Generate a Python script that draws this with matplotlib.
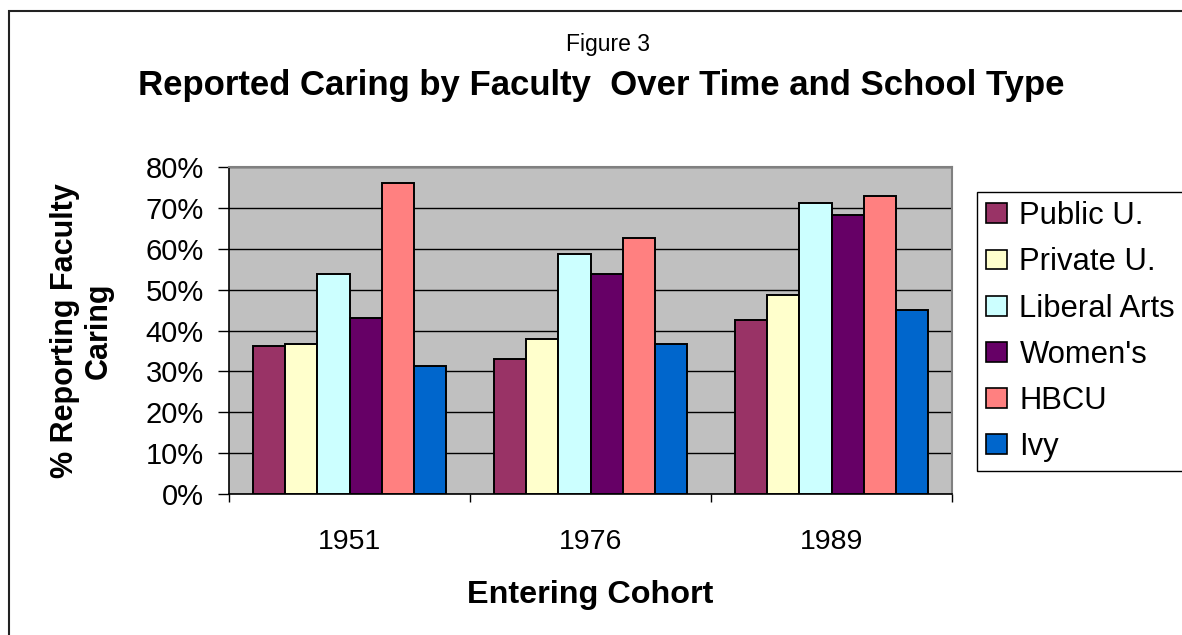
import matplotlib
matplotlib.use("Agg")
import matplotlib.pyplot as plt
from matplotlib.patches import Patch, Rectangle
from matplotlib.ticker import FuncFormatter, FixedLocator
import numpy as np

categories = ["1951", "1976", "1989"]
series_names = ["Public U.", "Private U.", "Liberal Arts", "Women's", "HBCU", "Ivy"]
public_u = [0.361, 0.331, 0.425]
private_u = [0.367, 0.380, 0.488]
liberal_arts = [0.539, 0.587, 0.711]
womens = [0.430, 0.539, 0.682]
hbcu = [0.760, 0.627, 0.729]
ivy = [0.312, 0.367, 0.449]
colors = ["#993366", "#FFFFCC", "#CCFFFF", "#660066", "#FF8080", "#0066CC"]
y_ticks = [0.0, 0.1, 0.2, 0.3, 0.4, 0.5, 0.6, 0.7, 0.8]

values = [public_u, private_u, liberal_arts, womens, hbcu, ivy]

W, H = 1182, 635
plt.rcParams['font.family'] = ['Liberation Sans', 'DejaVu Sans']
fig = plt.figure(figsize=(W / 100, H / 100), dpi=100)
fig.patch.set_facecolor("white")

left, right, top, bottom = 229, 952, 167, 494
ax = fig.add_axes([left / W, 1 - bottom / H, (right - left) / W, (bottom - top) / H])
ax.set_facecolor("#C0C0C0")

x = np.arange(len(categories))
n = len(values)
bw = 0.8 / n
for i, (vals, c) in enumerate(zip(values, colors)):
    ax.bar(x - 0.4 + bw * (i + 0.5), vals, width=bw, color=c, edgecolor="black",
           linewidth=1.4, zorder=3)

ax.set_xlim(-0.5, len(categories) - 0.5)
ax.set_ylim(0, 0.8)
ax.yaxis.set_major_locator(FixedLocator(y_ticks))
ax.yaxis.set_major_formatter(FuncFormatter(lambda v, p: f"{v * 100:.0f}%"))
ax.yaxis.grid(True, color="black", linewidth=1.0, zorder=1)
ax.set_axisbelow(True)

ax.set_xticks(x)
ax.set_xticklabels(categories)
ax.set_xticks(np.arange(len(categories) + 1) - 0.5, minor=True)
ax.tick_params(axis="x", which="major", length=0, pad=25, labelsize=20.5)
ax.tick_params(axis="x", which="minor", length=6, width=1, direction="out", color="black")
ax.tick_params(axis="y", length=8, width=1, direction="out", pad=10, labelsize=21)

for s in ["top", "right"]:
    ax.spines[s].set_color("#808080")
    ax.spines[s].set_linewidth(1.5)
ax.spines["left"].set_color("black")
ax.spines["bottom"].set_color("black")
ax.spines["left"].set_linewidth(1.2)
ax.spines["bottom"].set_linewidth(1.2)

ax.set_xlabel("Entering Cohort", fontsize=23.3, fontweight="bold", labelpad=18)
fig.text(82 / W, 1 - 331 / H, "% Reporting Faculty\nCaring", rotation=90,
         ha="center", va="center", fontsize=22, fontweight="bold", linespacing=1.15)

fig.text(608 / W, 1 - 45 / H, "Figure 3", ha="center", va="center", fontsize=16.5)
fig.text(601 / W, 1 - 85 / H, "Reported Caring by Faculty  Over Time and School Type",
         ha="center", va="center", fontsize=25, fontweight="bold")

handles = [Patch(facecolor=c, edgecolor="black", linewidth=1.2) for c in colors]
leg = fig.legend(handles, series_names, loc="upper left",
                 bbox_to_anchor=(977 / W, 1 - 192 / H, 260 / W, 0.0),
                 fontsize=22.3, frameon=True, fancybox=False, edgecolor="black",
                 framealpha=1, handlelength=0.68, handleheight=0.61,
                 handletextpad=0.39, labelspacing=0.52, borderpad=0.3,
                 borderaxespad=0)
leg.get_frame().set_linewidth(1.0)

fig.add_artist(Rectangle((9 / W, -0.1), 2.0, 1.1 - 11 / H, transform=fig.transFigure,
                         fill=False, edgecolor="#222222", linewidth=1.5))

fig.savefig("out.png", dpi=100, facecolor="white")
